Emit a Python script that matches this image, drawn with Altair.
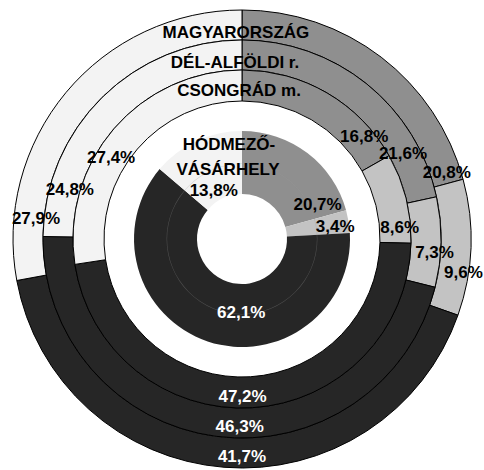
import math
import altair as alt
import pandas as pd

# Share of the four categories in each territorial unit (percent)
ring_names = ["MAGYARORSZÁG", "DÉL-ALFÖLDI r.", "CSONGRÁD m.", "HÓDMEZŐ-VÁSÁRHELY"]
segments = ["k1", "k2", "k3", "k4"]
magyarorszag = [20.8, 9.6, 41.7, 27.9]
del_alfold = [21.6, 7.3, 46.3, 24.8]
csongrad = [16.8, 8.6, 47.2, 27.4]
hodmezovasarhely = [20.7, 3.4, 62.1, 13.8]
series = [magyarorszag, del_alfold, csongrad, hodmezovasarhely]

# Ring geometry (outer, inner radius in px) and drawing centre
CX, CY = 242, 239
ring_radii = [(229, 199), (199, 169), (169, 138), (108, 45)]
seg_colors = ["#8f8f8f", "#c3c3c3", "#262626", "#f3f3f3"]
label_colors = ["black", "black", "white", "black"]

# Where each percentage label sits: fraction along its segment, radius
label_layout = [
    [(0.965, 215), (0.69, 224), (0.47, 218), (0.16, 207)],
    [(0.80, 182), (0.62, 193), (0.46, 188), (0.17, 179)],
    [(0.83, 159), (0.83, 158), (0.52, 158), (0.41, 154)],
    [(0.88, 83), (0.65, 94), (0.42, 74), (0.39, 56)],
]

# Ring captions: text, position around the circle (0-100), radius
caption_layout = [
    ("MAGYARORSZÁG", 99.53, 206),
    ("DÉL-ALFÖLDI r.", 99.37, 176),
    ("CSONGRÁD m.", 99.68, 148),
    ("HÓDMEZŐ-", 97.8, 95),
    ("VÁSÁRHELY", 96.8, 70),
]

rows, labels = [], []
for ri, vals in enumerate(series):
    start = 0.0
    for si, v in enumerate(vals):
        rows.append({"ring": ri, "seg": segments[si], "start": start, "end": start + v, "value": v})
        frac, rad = label_layout[ri][si]
        labels.append({
            "ring": ri,
            "seg": segments[si],
            "pos": start + frac * v,
            "r": rad,
            "txt": f"{v:.1f}".replace(".", ",") + "%",
            "col": label_colors[si],
        })
        start += v

arcs_df = pd.DataFrame(rows)
labels_df = pd.DataFrame(labels)
captions_df = pd.DataFrame(caption_layout, columns=["txt", "pos", "r"])

theta_scale = alt.Scale(domain=[0, 100], range=[0, 2 * math.pi])
fill_scale = alt.Scale(domain=segments, range=seg_colors)

layers = []
for ri, (ro, rin) in enumerate(ring_radii):
    outlined = ri < 3
    layers.append(
        alt.Chart(arcs_df)
        .transform_filter(alt.datum.ring == ri)
        .mark_arc(
            outerRadius=ro,
            innerRadius=rin,
            stroke="black" if outlined else "#3a3a3a",
            strokeWidth=1 if outlined else 0,
        )
        .encode(
            theta=alt.Theta("start:Q", scale=theta_scale),
            theta2="end:Q",
            fill=alt.Fill("seg:N", scale=fill_scale, legend=None),
            x=alt.value(CX),
            y=alt.value(CY),
        )
    )

# faint guide circle inside the innermost ring
guide = alt.Chart(pd.DataFrame({"a": [0]})).mark_arc(
    outerRadius=75.4, innerRadius=74.9, theta=0, theta2=2 * math.pi,
    fill="#9a9a9a", opacity=0.35,
).encode(x=alt.value(CX), y=alt.value(CY))

text_style = dict(font="Liberation Sans", fontWeight="bold", fontSize=17, align="center", baseline="middle")

pct_text = (
    alt.Chart(labels_df)
    .mark_text(**text_style)
    .encode(
        theta=alt.Theta("pos:Q", scale=theta_scale),
        radius=alt.Radius("r:Q", scale=None),
        text="txt:N",
        color=alt.Color("col:N", scale=None),
        x=alt.value(CX),
        y=alt.value(CY),
    )
)

cap_text = (
    alt.Chart(captions_df)
    .mark_text(color="black", **text_style)
    .encode(
        theta=alt.Theta("pos:Q", scale=theta_scale),
        radius=alt.Radius("r:Q", scale=None),
        text="txt:N",
        x=alt.value(CX),
        y=alt.value(CY),
    )
)

chart = (
    alt.layer(*layers, guide, pct_text, cap_text)
    .properties(width=484, height=470, autosize=alt.AutoSizeParams(type="none"), padding=0, background="white")
    .configure_view(stroke=None)
)

chart.save("out.html", embed_options={"renderer": "svg", "actions": False})
